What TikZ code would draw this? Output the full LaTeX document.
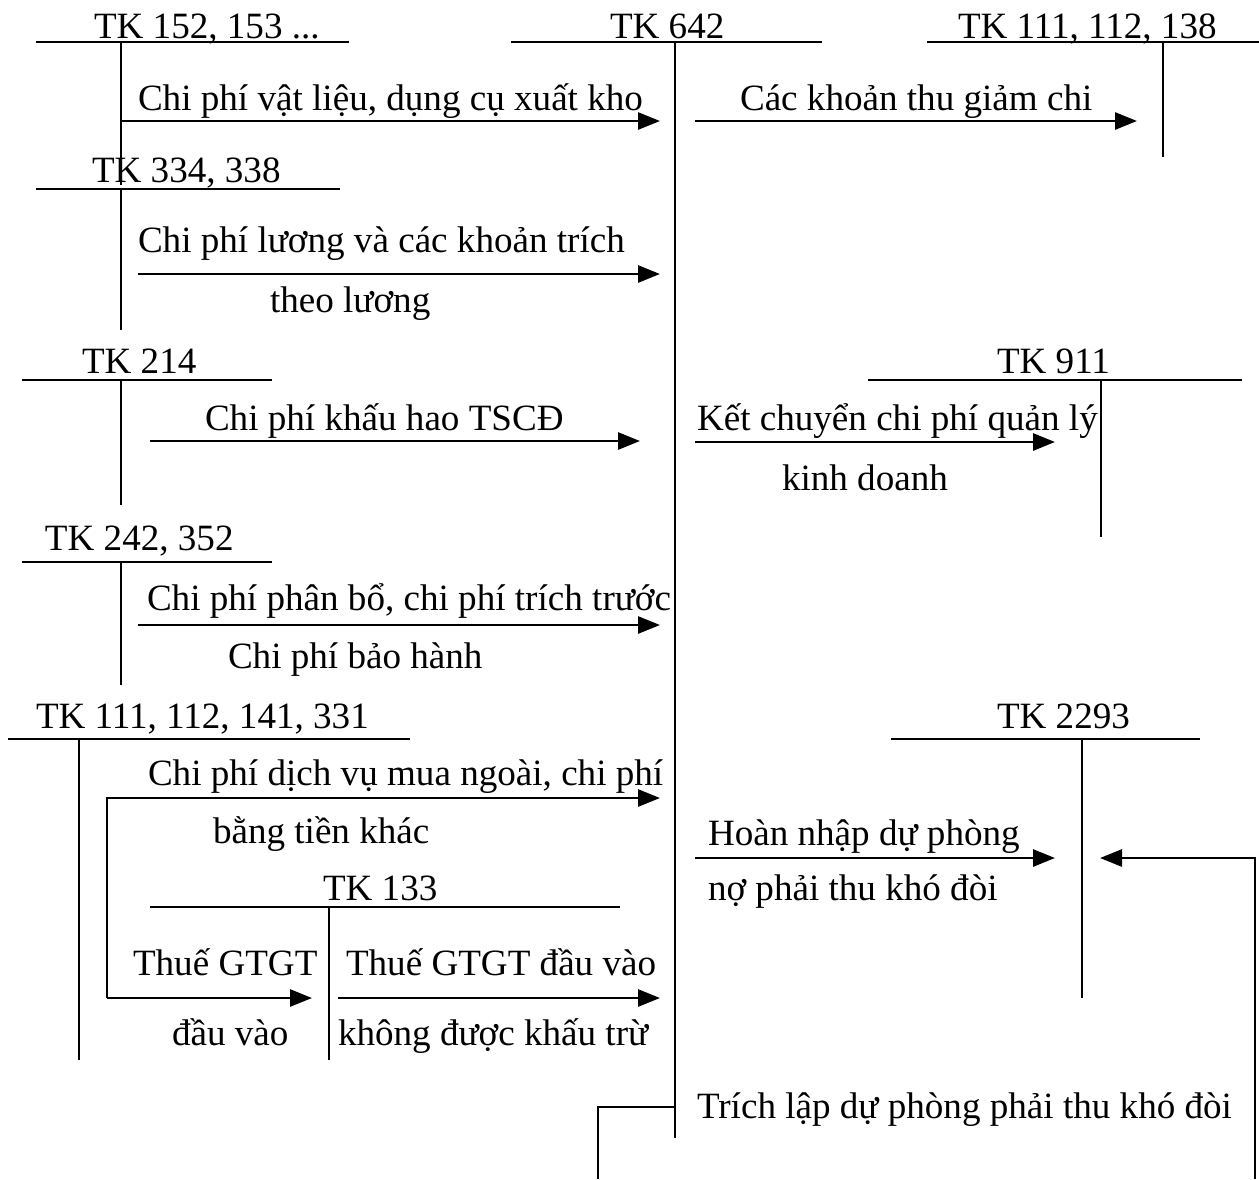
\documentclass[tikz,border=0pt]{standalone}
\usepackage{fontspec}
\setmainfont{Liberation Serif}
\usetikzlibrary{arrows.meta}
\begin{document}
\begin{tikzpicture}[x=1pt,y=-1pt,
  lbl/.style={anchor=base west,inner sep=0pt,outer sep=0pt,font=\fontsize{37.1}{44}\selectfont},
  tline/.style={line width=1.8pt},
  flow/.style={line width=2.8pt,-{Triangle[length=22pt,width=17pt]}},
  plainline/.style={line width=2pt}]
\useasboundingbox[fill=white] (0,0) rectangle (1259,1179);

% ---- account labels ----
\node[lbl] (t152) at (94,38) {TK 152, 153 ...};
\node[lbl] (t642) at (610,38) {TK 642};
\node[lbl] (t138) at (958,38) {TK 111, 112, 138};
\node[lbl] (t334) at (92,182) {TK 334, 338};
\node[lbl] (t214) at (82,373) {TK 214};
\node[lbl] (t911) at (997,373) {TK 911};
\node[lbl] (t242) at (45,550) {TK 242, 352};
\node[lbl] (t331) at (36,728) {TK 111, 112, 141, 331};
\node[lbl] (t2293) at (997,728) {TK 2293};
\node[lbl] (t133) at (323,900) {TK 133};

% ---- flow labels ----
\node[lbl] (l1) at (138,110) {Chi phí vật liệu, dụng cụ xuất kho};
\node[lbl] (l2) at (740,110) {Các khoản thu giảm chi};
\node[lbl] (l3) at (138,252) {Chi phí lương và các khoản trích};
\node[lbl] (l3b) at (270,312) {theo lương};
\node[lbl] (l4) at (205,430) {Chi phí khấu hao TSCĐ};
\node[lbl] (l5) at (697,430) {Kết chuyển chi phí quản lý};
\node[lbl] (l5b) at (782,490) {kinh doanh};
\node[lbl] (l6) at (147,610) {Chi phí phân bổ, chi phí trích trước};
\node[lbl] (l6b) at (228,668) {Chi phí bảo hành};
\node[lbl] (l7) at (148,785) {Chi phí dịch vụ mua ngoài, chi phí};
\node[lbl] (l7b) at (213,843) {bằng tiền khác};
\node[lbl] (l8) at (708,845) {Hoàn nhập dự phòng};
\node[lbl] (l8b) at (708,900) {nợ phải thu khó đòi};
\node[lbl] (l9) at (133,975) {Thuế GTGT};
\node[lbl] (l9b) at (172,1045) {đầu vào};
\node[lbl] (l10) at (346,975) {Thuế GTGT đầu vào};
\node[lbl] (l10b) at (338,1045) {không được khấu trừ};
\node[lbl] (l11) at (697,1118) {Trích lập dự phòng phải thu khó đòi};

% ---- T-account coordinates ----
\coordinate (a152L) at (36,42);  \coordinate (a152R) at (349,42);
\coordinate (a152T) at (121,42); \coordinate (a152B) at (121,185);
\coordinate (a642L) at (511,42); \coordinate (a642R) at (822,42);
\coordinate (a642T) at (675,42); \coordinate (a642B) at (675,1138);
\coordinate (a138L) at (927,42); \coordinate (a138R) at (1259,42);
\coordinate (a138T) at (1163,42); \coordinate (a138B) at (1163,157);
\coordinate (a334L) at (36,189); \coordinate (a334R) at (340,189);
\coordinate (a334T) at (121,189); \coordinate (a334B) at (121,330);
\coordinate (a214L) at (22,380); \coordinate (a214R) at (272,380);
\coordinate (a214T) at (121,380); \coordinate (a214B) at (121,505);
\coordinate (a911L) at (868,380); \coordinate (a911R) at (1242,380);
\coordinate (a911T) at (1101,380); \coordinate (a911B) at (1101,537);
\coordinate (a242L) at (22,562); \coordinate (a242R) at (272,562);
\coordinate (a242T) at (121,562); \coordinate (a242B) at (121,685);
\coordinate (a331L) at (8,739); \coordinate (a331R) at (410,739);
\coordinate (a331T) at (79,739); \coordinate (a331B) at (79,1060);
\coordinate (a2293L) at (891,739); \coordinate (a2293R) at (1200,739);
\coordinate (a2293T) at (1082,739); \coordinate (a2293B) at (1082,998);
\coordinate (a133L) at (150,907); \coordinate (a133R) at (620,907);
\coordinate (a133T) at (329,907); \coordinate (a133B) at (329,1060);

\foreach \n in {152,642,138,334,214,911,242,331,2293,133}{
  \draw[tline] (a\n L) -- (a\n R);
  \draw[tline] (a\n T) -- (a\n B);
}

% ---- flow coordinates ----
\coordinate (f1s) at (121,121);  \coordinate (f1e) at (660,121);
\coordinate (f2s) at (695,121);  \coordinate (f2e) at (1137,121);
\coordinate (f3s) at (138,274);  \coordinate (f3e) at (660,274);
\coordinate (f4s) at (150,441);  \coordinate (f4e) at (640,441);
\coordinate (f5s) at (695,442);  \coordinate (f5e) at (1055,442);
\coordinate (f6s) at (138,625);  \coordinate (f6e) at (660,625);
\coordinate (f7c) at (107,798);  \coordinate (f7e) at (660,798);
\coordinate (f9c) at (107,998);  \coordinate (f9e) at (312,998);
\coordinate (f10s) at (338,998); \coordinate (f10e) at (660,998);
\coordinate (f8s) at (695,858);  \coordinate (f8e) at (1055,858);
\coordinate (g1) at (675,1107);  \coordinate (g2) at (598,1107);
\coordinate (g3) at (598,1179);  \coordinate (g4) at (1255,1179);
\coordinate (g5) at (1255,858);  \coordinate (g6) at (1100,858);

\draw[flow] (f1s) -- (f1e);
\draw[flow] (f2s) -- (f2e);
\draw[flow] (f3s) -- (f3e);
\draw[flow] (f4s) -- (f4e);
\draw[flow] (f5s) -- (f5e);
\draw[flow] (f6s) -- (f6e);
\draw[flow] (f9c) -- (f7c) -- (f7e);
\draw[flow] (f9c) -- (f9e);
\draw[flow] (f10s) -- (f10e);
\draw[flow] (f8s) -- (f8e);
\draw[plainline] (g1) -- (g2) -- (g3);
\draw[flow] (g4) -- (g5) -- (g6);
\end{tikzpicture}
\end{document}
